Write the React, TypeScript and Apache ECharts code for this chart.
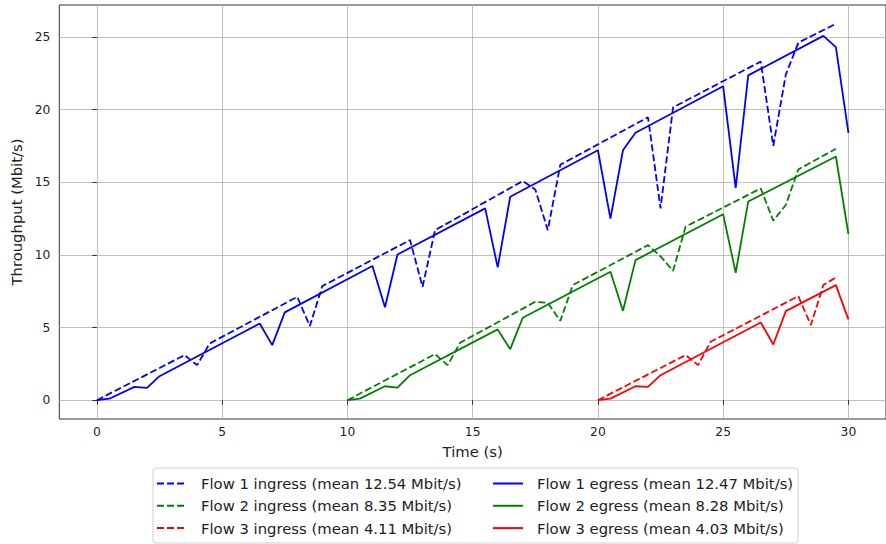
import React, { useEffect, useRef } from "react";
import * as echarts from "echarts";

// ---- data ----
const flow1IngressT = [0, 3.5, 4.0, 4.5, 8.0, 8.5, 9.0, 12.5, 13.0, 13.5, 17.0, 17.5, 18.0, 18.5, 22.0, 22.5, 23.0, 26.5, 27.0, 27.5, 28.0, 29.5];
const flow1IngressV = [0, 3.1, 2.41, 3.9, 7.11, 5.1, 7.85, 11.02, 7.8, 11.7, 15.08, 14.5, 11.7, 16.2, 19.47, 13.2, 20.15, 23.3, 17.5, 22.4, 24.6, 25.9];

const flow1EgressT = [0, 0.5, 1.5, 2.0, 2.5, 6.5, 7.0, 7.5, 11.0, 11.5, 12.0, 15.5, 16.0, 16.5, 20.0, 20.5, 21.0, 21.5, 25.0, 25.5, 26.0, 29.0, 29.5, 30.0];
const flow1EgressV = [0, 0.1, 0.92, 0.85, 1.65, 5.28, 3.79, 6.04, 9.23, 6.4, 10.03, 13.2, 9.14, 14.0, 17.2, 12.5, 17.2, 18.4, 21.6, 14.6, 22.35, 25.07, 24.3, 18.4];

const flow2IngressT = [10, 13.5, 14.0, 14.5, 17.5, 18.0, 18.5, 19.0, 22.0, 22.5, 23.0, 23.5, 26.5, 27.0, 27.5, 28.0, 29.5];
const flow2IngressV = [0, 3.17, 2.41, 3.95, 6.77, 6.7, 5.46, 7.92, 10.67, 9.9, 8.9, 11.94, 14.57, 12.35, 13.43, 15.88, 17.3];

const flow2EgressT = [10, 10.5, 11.5, 12.0, 12.5, 16.0, 16.5, 17.0, 20.5, 21.0, 21.5, 25.0, 25.5, 26.0, 29.5, 30.0];
const flow2EgressV = [0, 0.11, 0.96, 0.87, 1.72, 4.87, 3.51, 5.67, 8.84, 6.15, 9.64, 12.79, 8.77, 13.67, 16.77, 11.43];

const flow3IngressT = [20, 23.5, 24.0, 24.5, 28.0, 28.5, 29.0, 29.5];
const flow3IngressV = [0, 3.1, 2.41, 4.02, 7.16, 5.17, 7.92, 8.45];

const flow3EgressT = [20, 20.5, 21.5, 22.0, 22.5, 26.5, 27.0, 27.5, 29.5, 30.0];
const flow3EgressV = [0, 0.11, 0.96, 0.92, 1.72, 5.35, 3.83, 6.13, 7.92, 5.56];

const ingressNames = [
  "Flow 1 ingress (mean 12.54 Mbit/s)",
  "Flow 2 ingress (mean 8.35 Mbit/s)",
  "Flow 3 ingress (mean 4.11 Mbit/s)",
];
const egressNames = [
  "Flow 1 egress (mean 12.47 Mbit/s)",
  "Flow 2 egress (mean 8.28 Mbit/s)",
  "Flow 3 egress (mean 4.03 Mbit/s)",
];

const xTicks = [0, 5, 10, 15, 20, 25, 30];
const yTicks = [0, 5, 10, 15, 20, 25];

const FONT = "DejaVu Sans";
const colors = ["#0000ff", "#008000", "#ff0000"];

function pairs(t: number[], v: number[]) {
  return t.map((x, i) => [x, v[i]]);
}

export default function App() {
  const ref = useRef<HTMLDivElement>(null);

  useEffect(() => {
    if (!ref.current) return;
    const chart = echarts.init(ref.current, null, { renderer: "svg" });

    const ingress = [
      pairs(flow1IngressT, flow1IngressV),
      pairs(flow2IngressT, flow2IngressV),
      pairs(flow3IngressT, flow3IngressV),
    ];
    const egress = [
      pairs(flow1EgressT, flow1EgressV),
      pairs(flow2EgressT, flow2EgressV),
      pairs(flow3EgressT, flow3EgressV),
    ];

    const series: any[] = [];
    ingress.forEach((d, i) => {
      series.push({
        name: ingressNames[i],
        type: "line",
        data: d,
        symbol: "none",
        lineStyle: { color: colors[i], width: 1.8, type: [7, 3] },
        itemStyle: { color: colors[i] },
        z: 2,
      });
    });
    egress.forEach((d, i) => {
      series.push({
        name: egressNames[i],
        type: "line",
        data: d,
        symbol: "none",
        lineStyle: { color: colors[i], width: 1.8, type: "solid" },
        itemStyle: { color: colors[i] },
        z: 3,
      });
    });

    const legendCommon = {
      orient: "vertical",
      top: 475.5,
      itemWidth: 30,
      itemHeight: 14,
      itemGap: 6.3,
      padding: 0,
      selectedMode: false,
      itemStyle: { opacity: 0, borderWidth: 0 },
      textStyle: {
        fontFamily: FONT,
        fontSize: 14.8,
        lineHeight: 16,
        color: "#222",
        padding: [0, 0, 0, 9],
      },
    };

    chart.setOption({
      animation: false,
      backgroundColor: "#ffffff",
      textStyle: { fontFamily: FONT },
      grid: {
        left: 59.3,
        right: -6.7,
        top: 5,
        bottom: 125,
        show: true,
        borderColor: "#333",
        borderWidth: 1,
        backgroundColor: "transparent",
      },
      xAxis: {
        type: "value",
        min: -1.5,
        max: 31.5,
        axisLine: { show: false },
        axisTick: {
          show: true,
          customValues: xTicks,
          length: 4.5,
          lineStyle: { color: "#333", width: 1 },
        },
        axisLabel: {
          customValues: xTicks,
          margin: 7,
          fontSize: 12.3,
          color: "#222",
          fontFamily: FONT,
        },
        splitLine: { show: true, lineStyle: { color: "#b0b0b0", width: 0.8 } },
        name: "Time (s)",
        nameLocation: "middle",
        nameGap: 25,
        nameTextStyle: { fontSize: 14.8, color: "#222", fontFamily: FONT },
      },
      yAxis: {
        type: "value",
        min: -1.295,
        max: 27.195,
        axisLine: { show: false },
        axisTick: {
          show: true,
          customValues: yTicks,
          length: 4.5,
          lineStyle: { color: "#333", width: 1 },
        },
        axisLabel: {
          customValues: yTicks,
          margin: 9,
          fontSize: 12.3,
          color: "#222",
          fontFamily: FONT,
        },
        splitLine: { show: true, lineStyle: { color: "#b0b0b0", width: 0.8 } },
        name: "Throughput (Mbit/s)",
        nameLocation: "middle",
        nameGap: 30.5,
        nameTextStyle: { fontSize: 14.8, color: "#222", fontFamily: FONT },
      },
      legend: [
        { ...legendCommon, left: 156, data: ingressNames },
        { ...legendCommon, left: 492, data: egressNames },
      ],
      graphic: [
        {
          type: "rect",
          left: 152.5,
          top: 467.5,
          shape: { width: 645, height: 75, r: 3 },
          style: { fill: "rgba(255,255,255,0.8)", stroke: "#d0d0d0", lineWidth: 1 },
          z: -1,
          silent: true,
        },
      ],
      series,
    });

    return () => chart.dispose();
  }, []);

  return (
    <div
      ref={ref}
      style={{ position: "absolute", left: 0, top: 0, width: 886, height: 544 }}
    />
  );
}
